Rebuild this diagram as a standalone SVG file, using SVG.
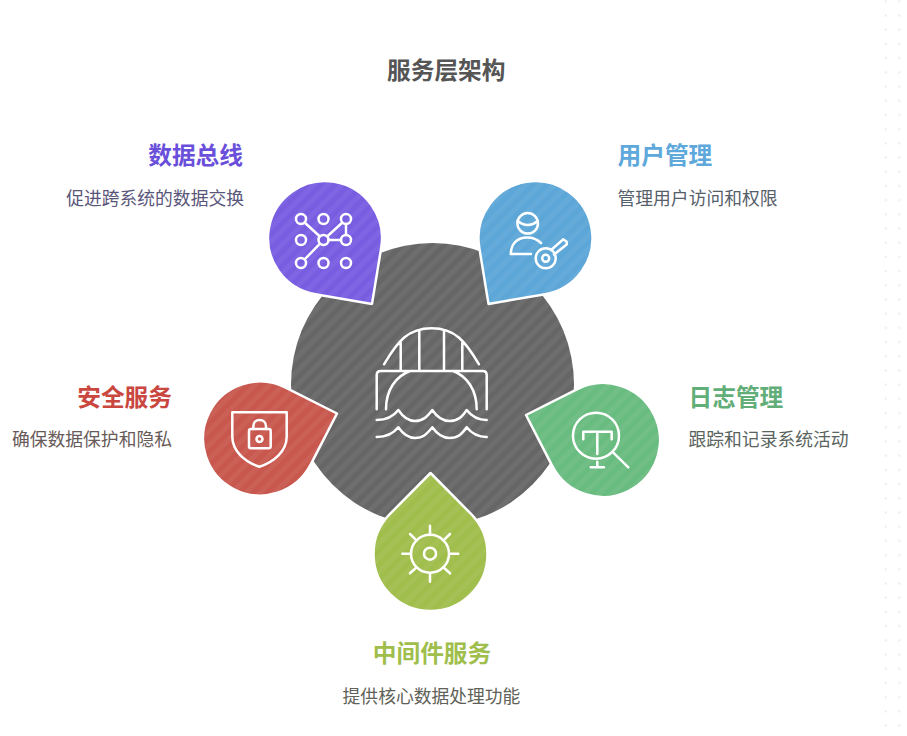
<svg xmlns="http://www.w3.org/2000/svg" width="907" height="736" viewBox="0 0 907 736">
<style>
text{font-family:"Noto Sans CJK SC","Noto Sans",sans-serif}
.h{font-size:23.7px;font-weight:700}
.d{font-size:17.8px;font-weight:400}
.t{font-size:23.7px;font-weight:700;fill:#555}
.e{text-anchor:end}
.m{text-anchor:middle}
.i{fill:none;stroke:#fff;stroke-width:2.5;stroke-linecap:round;stroke-linejoin:round}
.o{stroke:#fff;stroke-width:2.5;stroke-linejoin:round}
.s{fill:url(#stripes)}
</style>
<defs>
<pattern id="stripes" width="10" height="10" patternUnits="userSpaceOnUse" patternTransform="rotate(45)">
<rect width="5" height="10" fill="#fff" fill-opacity=".05"/>
</pattern>
<pattern id="dots" x="878.7" y="-5.8" width="30" height="14.2" patternUnits="userSpaceOnUse">
<circle cx="7" cy="7.1" r="1.2" fill="#ececec"/>
<circle cx="20.6" cy="7.1" r="1.2" fill="#ececec"/>
</pattern>
<path id="d-bus" d="M372,303.9L315.3,294.2A57,57 0 1 1 381.3,247.1Z"/>
<path id="d-user" d="M488.5,303.9L479.2,247.1A57,57 0 1 1 545.2,294.2Z"/>
<path id="d-sec" d="M337,413.5L310.65,464.63A57,57 0 1 1 285.63,387.59Z"/>
<path id="d-log" d="M526,415L577.37,389.09A57,57 0 1 1 552.35,466.13Z"/>
<path id="d-mid" d="M430.5,473L471,513.9A57,57 0 1 1 390,513.9Z"/>
</defs>
<rect width="907" height="736" fill="#fff"/>
<rect x="878" y="0" width="29" height="736" fill="url(#dots)"/>
<text class="t" x="387" y="79">服务层架构</text>
<g id="center">
<circle cx="432.5" cy="384.5" r="141.5" fill="#666"/>
<circle cx="432.5" cy="384.5" r="141.5" class="s"/>
<path class="i" d="M384,364.3C398,341 408,328.3 431.7,328.3C455,328.3 465,341 479,364.3M400.7,371V342.7M419.3,371V331M444,371V331M462.3,371V342.7M376.7,409.3V375Q376.7,371 380.7,371H482.7Q486.7,371 486.7,375V409.3M386,409.3C386,390 396,376 410,371M453,371C467,376 476.7,390 476.7,409.3M376.7,420C386,420 393,417 398.3,410C403,417 408,421 415,421C423,421 427,417 432.3,410C437,417 442,421 449.5,421C458,421 462,417 466.7,410C472,417 478,420 486.7,420M376.7,437C386,437 393,434 398.3,427.3C403,434 408,438 415,438C423,438 427,434 432.3,427.3C437,434 442,438 449.5,438C458,438 462,434 466.7,427.3C472,434 478,437 486.7,437"/>
</g>
<g id="node-bus">
<use href="#d-bus" fill="#785de1" class="o"/><use href="#d-bus" class="s"/>
<g class="i">
<circle cx="301" cy="219" r="5"/><circle cx="323.5" cy="219" r="5"/><circle cx="346" cy="219" r="5"/>
<circle cx="301" cy="240" r="5"/><circle cx="323.5" cy="240" r="5"/><circle cx="346" cy="240" r="5"/>
<circle cx="301" cy="263" r="5"/><circle cx="323.5" cy="263" r="5"/><circle cx="346" cy="263" r="5"/>
<path d="M304.6,222.5L319.9,236.5M327.1,236.5L342.4,222.5M346,224V235M328.5,240H341M320,243.6L304.6,259.4"/>
</g>
<text class="h e" x="243" y="164" fill="#6a4fdb">数据总线</text>
<text class="d e" x="244" y="205" fill="#5a567a">促进跨系统的数据交换</text>
</g>
<g id="node-user">
<use href="#d-user" fill="#5da6d8" class="o"/><use href="#d-user" class="s"/>
<path class="i" d="M517.6,221Q528,229 537.8,221M510.7,254H531M510.7,254C511,243 518,237.5 527,237.5C533,237.5 538,240 541,243M551.7,249.5L563.3,239.3L566.7,241.7V244.5L554,254.5"/>
<circle class="i" cx="527.7" cy="223.3" r="10.3"/>
<circle class="i" cx="545.7" cy="258.3" r="10"/>
<circle class="i" cx="545.7" cy="258.3" r="3.5"/>
<text class="h" x="617.5" y="164" fill="#5ea8db">用户管理</text>
<text class="d" x="617.5" y="205" fill="#56606a">管理用户访问和权限</text>
</g>
<g id="node-security">
<use href="#d-sec" fill="#c8574e" class="o"/><use href="#d-sec" class="s"/>
<path class="i" d="M232.3,412.3H286.7V436.7C286.7,451 274,462 259.3,466.7C245,462 232.3,451 232.3,436.7ZM253.3,429V426.5C253.3,422.5 256,420 259.6,420C263.2,420 266,422.5 266,426.5V429"/>
<rect class="i" x="249" y="429" width="21.7" height="19.3" rx="2"/>
<circle class="i" cx="259.5" cy="439" r="3"/>
<text class="h e" x="172" y="406" fill="#c9473f">安全服务</text>
<text class="d e" x="172" y="446" fill="#685a59">确保数据保护和隐私</text>
</g>
<g id="node-log">
<use href="#d-log" fill="#69bc80" class="o"/><use href="#d-log" class="s"/>
<circle class="i" cx="596" cy="435.7" r="23"/>
<path class="i" d="M613.3,452.7L628.3,467.3M583.3,439.3V431.7H611.7V439.3M597.3,431.7V454M597.3,461.7V467.3M590.7,467.3H604"/>
<text class="h" x="688.5" y="406" fill="#62ae78">日志管理</text>
<text class="d" x="688.5" y="446" fill="#5a645e">跟踪和记录系统活动</text>
</g>
<g id="node-middleware">
<use href="#d-mid" fill="#a0be4c" class="o"/><use href="#d-mid" class="s"/>
<circle class="i" cx="430" cy="553.7" r="19"/>
<circle class="i" cx="430" cy="553.7" r="6"/>
<path class="i" d="M430,525.7V534M430,573.3V581.7M402.3,553.7H410.7M449.3,553.7H458.3M410,534L416.7,540.7M450,534L443.3,540.7M410,573.3L416.7,567.3M450,573.3L443.3,567.3"/>
<text class="h m" x="432" y="662" fill="#a0be4c">中间件服务</text>
<text class="d m" x="431.5" y="703" fill="#5f6258">提供核心数据处理功能</text>
</g>
</svg>
